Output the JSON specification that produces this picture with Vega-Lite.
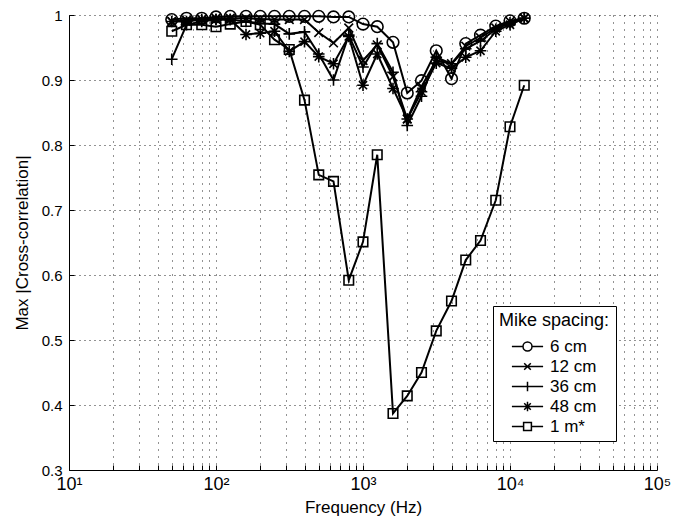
{
  "$schema": "https://vega.github.io/schema/vega-lite/v6.json",
  "width": 588,
  "height": 455,
  "autosize": {"type": "none"},
  "padding": {"left": 69, "top": 15, "right": 22, "bottom": 59},
  "background": "white",
  "config": {
    "view": {"stroke": null},
    "font": "Liberation Sans",
    "axis": {"labelFont": "Liberation Sans", "titleFont": "Liberation Sans", "labelColor": "black", "titleColor": "black", "titleFontWeight": "normal", "domainColor": "black", "tickColor": "black", "gridColor": "black", "gridOpacity": 0.85}
  },
  "datasets": {
    "d": [
      {"f":50,"s":"6 cm","v":0.993},{"f":63,"s":"6 cm","v":0.995},{"f":80,"s":"6 cm","v":0.995},{"f":100,"s":"6 cm","v":0.997},{"f":125,"s":"6 cm","v":0.998},{"f":160,"s":"6 cm","v":0.998},{"f":200,"s":"6 cm","v":0.998},{"f":250,"s":"6 cm","v":0.998},{"f":315,"s":"6 cm","v":0.998},{"f":400,"s":"6 cm","v":0.998},{"f":500,"s":"6 cm","v":0.998},{"f":630,"s":"6 cm","v":0.997},{"f":800,"s":"6 cm","v":0.997},{"f":1000,"s":"6 cm","v":0.986},{"f":1250,"s":"6 cm","v":0.982},{"f":1600,"s":"6 cm","v":0.958},{"f":2000,"s":"6 cm","v":0.880},{"f":2500,"s":"6 cm","v":0.899},{"f":3150,"s":"6 cm","v":0.945},{"f":4000,"s":"6 cm","v":0.902},{"f":5000,"s":"6 cm","v":0.956},{"f":6300,"s":"6 cm","v":0.969},{"f":8000,"s":"6 cm","v":0.983},{"f":10000,"s":"6 cm","v":0.991},{"f":12500,"s":"6 cm","v":0.995},
      {"f":50,"s":"12 cm","v":0.990},{"f":63,"s":"12 cm","v":0.992},{"f":80,"s":"12 cm","v":0.993},{"f":100,"s":"12 cm","v":0.995},{"f":125,"s":"12 cm","v":0.995},{"f":160,"s":"12 cm","v":0.995},{"f":200,"s":"12 cm","v":0.994},{"f":250,"s":"12 cm","v":0.993},{"f":315,"s":"12 cm","v":0.993},{"f":400,"s":"12 cm","v":0.993},{"f":500,"s":"12 cm","v":0.973},{"f":630,"s":"12 cm","v":0.957},{"f":800,"s":"12 cm","v":0.980},{"f":1000,"s":"12 cm","v":0.930},{"f":1250,"s":"12 cm","v":0.954},{"f":1600,"s":"12 cm","v":0.905},{"f":2000,"s":"12 cm","v":0.840},{"f":2500,"s":"12 cm","v":0.890},{"f":3150,"s":"12 cm","v":0.930},{"f":4000,"s":"12 cm","v":0.925},{"f":5000,"s":"12 cm","v":0.952},{"f":6300,"s":"12 cm","v":0.965},{"f":8000,"s":"12 cm","v":0.980},{"f":10000,"s":"12 cm","v":0.990},{"f":12500,"s":"12 cm","v":0.995},
      {"f":50,"s":"36 cm","v":0.932},{"f":63,"s":"36 cm","v":0.985},{"f":80,"s":"36 cm","v":0.990},{"f":100,"s":"36 cm","v":0.993},{"f":125,"s":"36 cm","v":0.993},{"f":160,"s":"36 cm","v":0.990},{"f":200,"s":"36 cm","v":0.987},{"f":250,"s":"36 cm","v":0.986},{"f":315,"s":"36 cm","v":0.971},{"f":400,"s":"36 cm","v":0.974},{"f":500,"s":"36 cm","v":0.940},{"f":630,"s":"36 cm","v":0.900},{"f":800,"s":"36 cm","v":0.969},{"f":1000,"s":"36 cm","v":0.920},{"f":1250,"s":"36 cm","v":0.956},{"f":1600,"s":"36 cm","v":0.912},{"f":2000,"s":"36 cm","v":0.830},{"f":2500,"s":"36 cm","v":0.875},{"f":3150,"s":"36 cm","v":0.935},{"f":4000,"s":"36 cm","v":0.925},{"f":5000,"s":"36 cm","v":0.948},{"f":6300,"s":"36 cm","v":0.960},{"f":8000,"s":"36 cm","v":0.978},{"f":10000,"s":"36 cm","v":0.988},{"f":12500,"s":"36 cm","v":0.995},
      {"f":50,"s":"48 cm","v":0.990},{"f":63,"s":"48 cm","v":0.990},{"f":80,"s":"48 cm","v":0.993},{"f":100,"s":"48 cm","v":0.993},{"f":125,"s":"48 cm","v":0.993},{"f":160,"s":"48 cm","v":0.970},{"f":200,"s":"48 cm","v":0.972},{"f":250,"s":"48 cm","v":0.975},{"f":315,"s":"48 cm","v":0.944},{"f":400,"s":"48 cm","v":0.959},{"f":500,"s":"48 cm","v":0.936},{"f":630,"s":"48 cm","v":0.925},{"f":800,"s":"48 cm","v":0.967},{"f":1000,"s":"48 cm","v":0.892},{"f":1250,"s":"48 cm","v":0.940},{"f":1600,"s":"48 cm","v":0.887},{"f":2000,"s":"48 cm","v":0.840},{"f":2500,"s":"48 cm","v":0.882},{"f":3150,"s":"48 cm","v":0.926},{"f":4000,"s":"48 cm","v":0.918},{"f":5000,"s":"48 cm","v":0.935},{"f":6300,"s":"48 cm","v":0.945},{"f":8000,"s":"48 cm","v":0.975},{"f":10000,"s":"48 cm","v":0.985},{"f":12500,"s":"48 cm","v":0.995},
      {"f":50,"s":"1 m*","v":0.975},{"f":63,"s":"1 m*","v":0.985},{"f":80,"s":"1 m*","v":0.985},{"f":100,"s":"1 m*","v":0.982},{"f":125,"s":"1 m*","v":0.986},{"f":160,"s":"1 m*","v":0.990},{"f":200,"s":"1 m*","v":0.985},{"f":250,"s":"1 m*","v":0.962},{"f":315,"s":"1 m*","v":0.947},{"f":400,"s":"1 m*","v":0.869},{"f":500,"s":"1 m*","v":0.754},{"f":630,"s":"1 m*","v":0.744},{"f":800,"s":"1 m*","v":0.592},{"f":1000,"s":"1 m*","v":0.651},{"f":1250,"s":"1 m*","v":0.785},{"f":1600,"s":"1 m*","v":0.387},{"f":2000,"s":"1 m*","v":0.414},{"f":2500,"s":"1 m*","v":0.450},{"f":3150,"s":"1 m*","v":0.514},{"f":4000,"s":"1 m*","v":0.560},{"f":5000,"s":"1 m*","v":0.623},{"f":6300,"s":"1 m*","v":0.653},{"f":8000,"s":"1 m*","v":0.715},{"f":10000,"s":"1 m*","v":0.828},{"f":12500,"s":"1 m*","v":0.892}
    ]
  },
  "data": {"name": "d"},
  "encoding": {
    "x": {"field": "f", "type": "quantitative", "scale": {"type": "log", "domain": [10, 100000], "nice": false},
      "axis": {"title": "Frequency (Hz)", "titleFontSize": 17, "titlePadding": 6, "labelFontSize": 18, "labelPadding": 10, "tickSize": -5, "domainWidth": 1, "gridDash": [1, 6], "gridWidth": 1,
        "values": [10,20,30,40,50,60,70,80,90,100,200,300,400,500,600,700,800,900,1000,2000,3000,4000,5000,6000,7000,8000,9000,10000,20000,30000,40000,50000,60000,70000,80000,90000,100000],
        "labelExpr": "datum.value == 10 ? '10¹' : datum.value == 100 ? '10²' : datum.value == 1000 ? '10³' : datum.value == 10000 ? '10⁴' : datum.value == 100000 ? '10⁵' : ''",
        "labelFlush": false, "labelOverlap": false}},
    "y": {"field": "v", "type": "quantitative", "scale": {"domain": [0.3, 1], "nice": false, "zero": false},
      "axis": {"title": "Max |Cross-correlation|", "titleFontSize": 17, "titlePadding": 10, "labelFontSize": 15, "labelPadding": 12, "tickSize": -5, "gridDash": [1, 4], "gridWidth": 1,
        "values": [0.3, 0.4, 0.5, 0.6, 0.7, 0.8, 0.9, 1],
        "labelExpr": "datum.value == 1 ? '1' : format(datum.value, '.1f')", "labelFlush": false}}
  },
  "layer": [
    {"mark": {"type": "line", "color": "black", "strokeWidth": 2}, "encoding": {"detail": {"field": "s"}}},
    {"mark": {"type": "point", "filled": false, "strokeWidth": 1.6, "opacity": 1, "size": 135},
      "encoding": {
        "shape": {"field": "s", "type": "nominal", "legend": null,
          "scale": {"domain": ["1 m*", "6 cm", "12 cm", "36 cm", "48 cm"],
            "range": ["M-0.82,-0.82L0.82,-0.82L0.82,0.82L-0.82,0.82Z", "circle", "M-0.75,-0.75L0.75,0.75M-0.75,0.75L0.75,-0.75", "M0,-1L0,1M-1,0L1,0", "M0,-1L0,1M-1,0L1,0M-0.7,-0.7L0.7,0.7M-0.7,0.7L0.7,-0.7"]}},
        "color": {"field": "s", "type": "nominal",
          "scale": {"domain": ["6 cm", "12 cm", "36 cm", "48 cm", "1 m*"], "range": ["black", "black", "black", "black", "black"]},
          "legend": {"orient": "none", "legendX": 424, "legendY": 291, "title": "Mike spacing:", "titleFontSize": 18, "titleFont": "Liberation Sans", "titleFontWeight": "normal", "titleColor": "black", "titlePadding": 8,
            "labelFontSize": 17, "labelFont": "Liberation Sans", "labelColor": "black", "strokeColor": "black", "fillColor": "white", "padding": 6, "rowPadding": 2, "symbolOffset": 20, "labelOffset": 14, "symbolStrokeColor": "black", "symbolStrokeWidth": 1.5, "symbolFillColor": "transparent", "symbolSize": 144,
            "symbolType": {"expr": "datum.value === '6 cm' ? 'M-2.6,0L-0.75,0M0.75,0L2.6,0M0.75,0A0.75,0.75 0 1,1 -0.75,0A0.75,0.75 0 1,1 0.75,0' : datum.value === '12 cm' ? 'M-2.6,0L2.6,0M-0.55,-0.55L0.55,0.55M-0.55,0.55L0.55,-0.55' : datum.value === '36 cm' ? 'M-2.6,0L2.6,0M0,-0.8L0,0.8' : datum.value === '48 cm' ? 'M-2.6,0L2.6,0M0,-0.8L0,0.8M-0.55,-0.55L0.55,0.55M-0.55,0.55L0.55,-0.55' : 'M-2.6,0L-0.65,0M0.65,0L2.6,0M-0.65,-0.65L0.65,-0.65L0.65,0.65L-0.65,0.65Z'"}}}
      }}
  ]
}
